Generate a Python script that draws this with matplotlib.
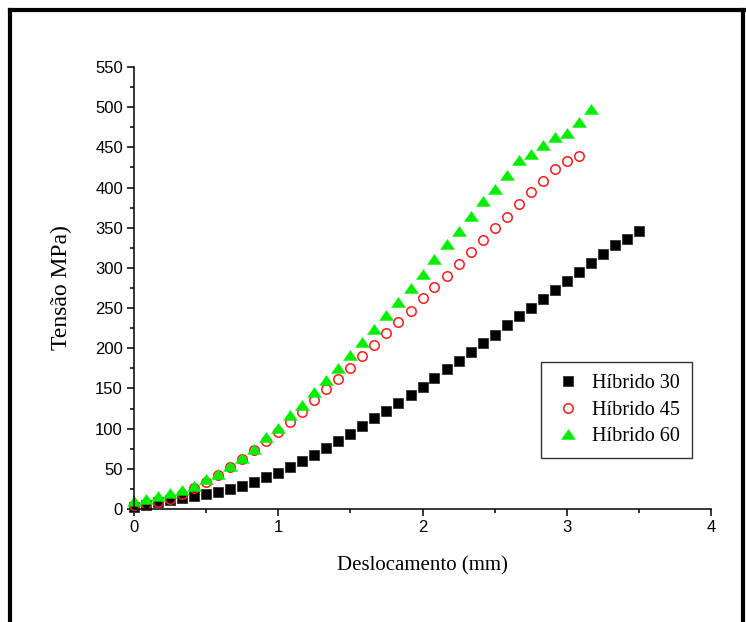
import matplotlib
matplotlib.use('Agg')
import matplotlib.pyplot as plt
from matplotlib.lines import Line2D
from matplotlib.ticker import MultipleLocator

# displacement (mm) / stress (MPa)
x_h30 = [0.0, 0.083, 0.167, 0.25, 0.333, 0.417, 0.5, 0.583, 0.667, 0.75, 0.833, 0.917,
         1.0, 1.083, 1.167, 1.25, 1.333, 1.417, 1.5, 1.583, 1.667, 1.75, 1.833, 1.917,
         2.0, 2.083, 2.167, 2.25, 2.333, 2.417, 2.5, 2.583, 2.667, 2.75, 2.833, 2.917,
         3.0, 3.083, 3.167, 3.25, 3.333, 3.417, 3.5]
y_h30 = [3, 5.5, 9, 11, 13.3, 15.8, 18.7, 21.5, 25, 29, 34, 39.4,
         45, 52.4, 59.3, 67.5, 75.9, 84.2, 93.3, 102.9, 112.8, 122.3, 131.8, 141.8,
         152.1, 162.9, 173.8, 184.5, 194.9, 206.1, 216.8, 228.5, 239.7, 250.4, 261.2, 272.8,
         284.0, 294.8, 306.0, 317.5, 328.0, 336.2, 346.1]

x_h45 = [0.0, 0.083, 0.167, 0.25, 0.333, 0.417, 0.5, 0.583, 0.667, 0.75, 0.833, 0.917,
         1.0, 1.083, 1.167, 1.25, 1.333, 1.417, 1.5, 1.583, 1.667, 1.75, 1.833, 1.917,
         2.0, 2.083, 2.167, 2.25, 2.333, 2.417, 2.5, 2.583, 2.667, 2.75, 2.833, 2.917,
         3.0, 3.083]
y_h45 = [5, 6.5, 9, 13, 19, 26, 34, 42, 52, 62, 73, 84,
         96, 108.6, 121, 135.6, 149, 162, 176, 190, 204.4, 218.5, 232.6, 247,
         262, 275.7, 289.8, 305, 319.3, 335, 349.5, 363.6, 379.4, 394, 408, 422.5,
         433, 439.4]

x_h60 = [0.0, 0.083, 0.167, 0.25, 0.333, 0.417, 0.5, 0.583, 0.667, 0.75, 0.833, 0.917,
         1.0, 1.083, 1.167, 1.25, 1.333, 1.417, 1.5, 1.583, 1.667, 1.75, 1.833, 1.917,
         2.0, 2.083, 2.167, 2.25, 2.333, 2.417, 2.5, 2.583, 2.667, 2.75, 2.833, 2.917,
         3.0, 3.083, 3.167]
y_h60 = [10, 13, 16, 19.5, 24, 29, 37, 44, 53.5, 63, 75, 89,
         101, 117, 130, 145, 160, 176, 192, 208, 224.3, 241, 257.5, 274.5,
         293, 310.6, 329.6, 346, 365, 382.7, 398.4, 415.8, 433.7, 441.2, 452.8, 462.4,
         468.1, 481.1, 497.5]

labels = ['Híbrido 30', 'Híbrido 45', 'Híbrido 60']

serif = 'Liberation Serif'
sans = 'Liberation Sans'

fig = plt.figure(figsize=(7.46, 6.22), dpi=100)
ax = fig.add_axes([134 / 746, 1 - 509 / 622, 577 / 746, 442 / 622])

# flattened triangle like the Origin marker
tri = [(-1, -0.72), (1, -0.72), (0, 0.72), (-1, -0.72)]

ax.plot(x_h30, y_h30, ls='none', marker='s', ms=7.6, color='black', mec='#333333', mew=0.6,
        label=labels[0])
ax.plot(x_h45, y_h45, ls='none', marker='o', ms=6.8, mfc='none', mec='#ff1a1a', mew=1.1,
        label=labels[1])
ax.plot(x_h60, y_h60, ls='none', marker=tri, ms=10, color='#00ee00', mec='#00ee00', mew=0.3,
        label=labels[2])

ax.set_xlim(0, 4)
ax.set_ylim(0, 550)
ax.xaxis.set_major_locator(MultipleLocator(1))
ax.xaxis.set_minor_locator(MultipleLocator(0.5))
ax.yaxis.set_major_locator(MultipleLocator(50))
ax.yaxis.set_minor_locator(MultipleLocator(25))

for side in ['top', 'right']:
    ax.spines[side].set_visible(False)
for side in ['left', 'bottom']:
    ax.spines[side].set_linewidth(1.1)
ax.tick_params(which='major', direction='out', length=5, width=1.1, labelsize=12, pad=3)
ax.tick_params(which='minor', direction='out', length=3, width=1.1)
for t in ax.get_xticklabels() + ax.get_yticklabels():
    t.set_fontfamily(sans)
for ln in ax.lines:
    ln.set_clip_on(False)

ax.set_xlabel('Deslocamento (mm)', fontfamily=serif, fontsize=15, va='center')
ax.xaxis.set_label_coords(0.5, -0.129)
ax.set_ylabel('Tensão MPa)', fontfamily=serif, fontsize=17, va='center')
ax.yaxis.set_label_coords(-0.125, 0.5)

leg = ax.legend(loc='lower right', bbox_to_anchor=(0.9665, 0.115), borderaxespad=0,
                prop={'family': serif, 'size': 14.5}, fancybox=False, edgecolor='#333333',
                framealpha=1, handlelength=1.4, handletextpad=0.5, borderpad=0.6,
                labelspacing=0.36)
leg.get_frame().set_linewidth(1.0)

# thick outer frame (left, top, right)
for xs, ys in [([10 / 746, 10 / 746], [0, 1 - 10 / 622]),
               ([10 / 746, 1], [1 - 10 / 622, 1 - 10 / 622]),
               ([743 / 746, 743 / 746], [0, 1 - 10 / 622])]:
    fig.add_artist(Line2D(xs, ys, color='black', lw=3.0, solid_capstyle='projecting'))

fig.savefig('out.png', dpi=100)
